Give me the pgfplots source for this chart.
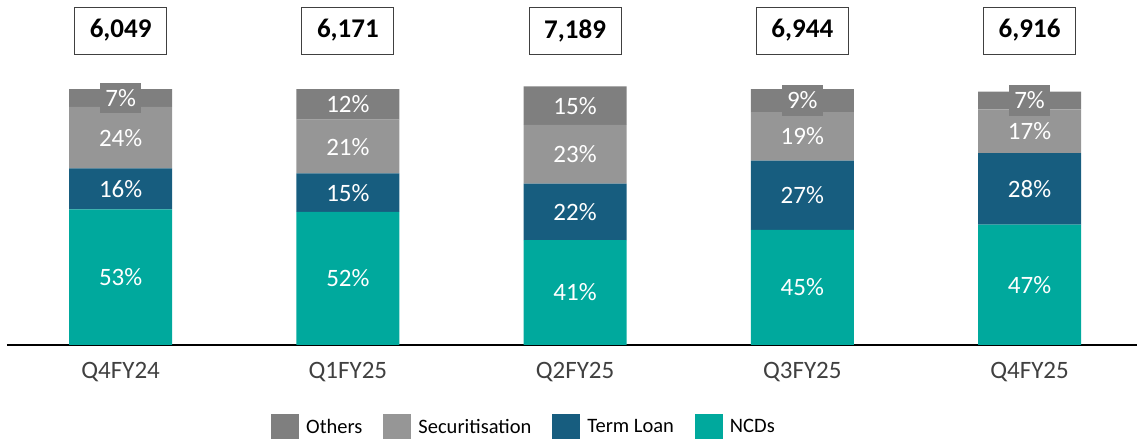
\documentclass[border=0pt]{standalone}
\usepackage{pgfplots}
\pgfplotsset{compat=1.18}
\usepackage{fontspec}
\setmainfont{Carlito}
\definecolor{cOth}{HTML}{7F7F7F}
\definecolor{cSec}{HTML}{969696}
\definecolor{cTL}{HTML}{175D7F}
\definecolor{cNCD}{HTML}{00A99D}
\definecolor{tickgray}{HTML}{404040}
\pgfplotsset{sqlegend/.style={legend image code/.code={\fill[##1,draw=none] (0pt,-12.5pt) rectangle (28pt,12.5pt);}}}
\pgfplotsset{base/.style={scale only axis, width=1130pt, height=345pt,
  xmin=-0.5, xmax=4.473, ymin=0, ymax=134.77, clip=false}}
\begin{document}
\begin{tikzpicture}
\useasboundingbox (-7pt,-98pt) rectangle (1130pt,345pt);
\begin{axis}[base,
  axis x line=bottom, axis y line=none,
  axis line style={-, black, line width=1.3pt},
  ybar stacked, bar width=103pt,
  xtick={0,1,2,3,4}, xticklabels={Q4FY24,Q1FY25,Q2FY25,Q3FY25,Q4FY25},
  major tick length=0pt,
  xticklabel style={font=\fontsize{25}{29}\selectfont, text=tickgray, yshift=-14pt},
  reverse legend,
  legend columns=4,
  legend style={draw=none, fill=none, font=\fontsize{20.5}{24}\selectfont,
    at={(axis description cs:0.4575,0)}, anchor=center, yshift=-82pt,
    /tikz/every odd column/.append style={column sep=5pt},
    /tikz/every even column/.append style={column sep=19pt}},
]
\addplot[fill=cNCD, draw=none, sqlegend] coordinates {(0,53) (1,52) (2,41) (3,45) (4,47)};
\addlegendentry{NCDs}
\addplot[fill=cTL, draw=none, sqlegend] coordinates {(0,16) (1,15) (2,22) (3,27) (4,28)};
\addlegendentry{Term Loan}
\addplot[fill=cSec, draw=none, sqlegend] coordinates {(0,24) (1,21) (2,23) (3,19) (4,17)};
\addlegendentry{Securitisation}
\addplot[fill=cOth, draw=none, sqlegend] coordinates {(0,7) (1,12) (2,15) (3,9) (4,7)};
\addlegendentry{Others}
\end{axis}
\begin{axis}[base, hide axis]
\addplot[draw=none, mark=none, nodes near coords={\pgfplotspointmeta\%}, point meta=explicit symbolic,
  every node near coord/.append style={anchor=center, text=white, font=\fontsize{25}{29}\selectfont}]
  table[meta=l] {
x y l
0 26.5 53
1 26 52
2 20.5 41
3 22.5 45
4 23.5 47
0 61 16
1 59.5 15
2 52 22
3 58.5 27
4 61 28
0 81 24
1 77.5 21
2 74.5 23
3 81.5 19
4 83.5 17
};
\addplot[draw=none, mark=none, nodes near coords={\pgfplotspointmeta\%}, point meta=explicit symbolic,
  every node near coord/.append style={anchor=center, text=white, fill=cOth, inner xsep=5.5pt, inner ysep=6.5pt, font=\fontsize{25}{29}\selectfont}]
  table[meta=l] {
x y l
0 96.5 7
1 94 12
2 93.5 15
3 95.5 9
4 95.5 7
};
\addplot[draw=none, mark=none, nodes near coords={\pgfplotspointmeta}, point meta=explicit symbolic,
  every node near coord/.append style={anchor=center, text=black, draw=tickgray, line width=0.9pt, fill=white,
    minimum width=92pt, minimum height=47pt, font=\fontsize{27}{31}\selectfont\bfseries}]
  table[meta=t] {
x y t
0 122.85 6,049
1 122.85 6,171
2 122.85 7,189
3 122.85 6,944
4 122.85 6,916
};
\end{axis}
\end{tikzpicture}
\end{document}
